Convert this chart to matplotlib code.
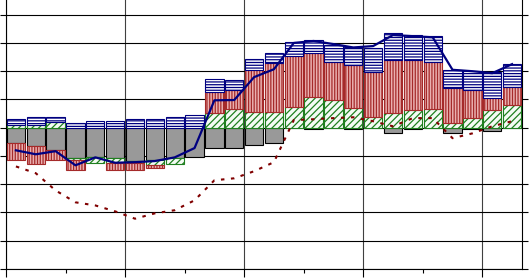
import numpy as np
import matplotlib
matplotlib.use("Agg")
import matplotlib.pyplot as plt

plt.rcParams["hatch.linewidth"] = 0.9
plt.rcParams["lines.scale_dashes"] = False

# 26 Perioden, gestapelte Beitraege
n = np.arange(26)
grau = np.array([-0.55, -0.66, -0.80, -1.08, -1.05, -1.08, -1.19, -1.15, -1.08, -1.05,
                 -0.73, -0.73, -0.62, -0.55, 0.0, -0.05, 0.0, -0.05, 0.0, -0.17,
                 -0.03, 0.0, -0.20, -0.05, -0.10, 0.0])
gruen = np.array([0.08, 0.10, 0.19, -0.07, -0.20, -0.18, -0.07, -0.18, -0.22, 0.0,
                  0.51, 0.68, 0.56, 0.56, 0.74, 1.08, 0.98, 0.69, 0.37, 0.51,
                  0.62, 0.68, 0.16, 0.33, 0.62, 0.80])
rot = np.array([-0.60, -0.64, -0.35, -0.36, 0.0, -0.25, -0.25, -0.10, 0.0, 0.0,
                0.76, 0.65, 1.48, 1.72, 1.80, 1.56, 1.35, 1.52, 1.60, 1.88,
                1.77, 1.65, 1.24, 1.00, 0.43, 0.63])
blau = np.array([0.22, 0.27, 0.18, 0.16, 0.23, 0.23, 0.30, 0.30, 0.37, 0.44,
                 0.44, 0.35, 0.38, 0.35, 0.51, 0.46, 0.60, 0.64, 0.85, 0.96,
                 0.89, 0.91, 0.64, 0.68, 0.92, 0.83])
# Summenlinie und kumulierte Linie
summe = np.array([-0.80, -0.94, -0.83, -1.33, -1.05, -1.24, -1.22, -1.18, -1.05, -0.72,
                  0.97, 0.98, 1.79, 2.07, 3.00, 3.07, 2.96, 2.84, 2.89, 3.28,
                  3.24, 3.20, 2.05, 2.00, 1.93, 2.25])
kumuliert = np.array([-1.37, -1.61, -2.22, -2.64, -2.75, -2.96, -3.22, -3.03, -2.92, -2.57,
                      -1.86, -1.79, -1.54, -1.22, 0.27, 0.30, 0.34, 0.37, 0.23, 0.05,
                      0.34, 0.34, -0.37, -0.20, 0.05, 0.23])

fig = plt.figure(figsize=(5.29, 2.78), dpi=100)
ax = fig.add_axes([6/529, 9/278, 516/529, 269/278])

serien = [(grau, "#999999", "black", ""),
          (gruen, "#f4fbf4", "#1f7f1f", "/////"),
          (rot, "#eab0b0", "#a52a2a", "||||||"),
          (blau, "white", "#000080", "------")]
pos = np.zeros(len(n))
neg = np.zeros(len(n))
for werte, fc, ec, muster in serien:
    unten = np.where(werte >= 0, pos, neg)
    m = werte != 0
    ax.bar(n[m], werte[m], 0.92, bottom=unten[m], color=fc, edgecolor=ec,
           hatch=muster, linewidth=0.8, zorder=2)
    pos = pos + np.clip(werte, 0, None)
    neg = neg + np.clip(werte, None, 0)

ax.plot(n, summe, color="#000080", lw=1.6, zorder=4)
ax.plot(n, kumuliert, color="#800000", lw=1.5, linestyle=(0, (2.5, 4.7)), zorder=4)

ax.set_xlim(-0.5, 25.5)
ax.set_ylim(-5, 4.52)
ax.set_yticks(range(-5, 5))
ax.set_xticks(np.arange(-0.5, 26, 6))
ax.set_xticks(np.arange(2.5, 26, 6), minor=True)
ax.yaxis.grid(True, color="black", lw=0.8)
ax.xaxis.grid(True, which="major", color="#404040", lw=0.8)
ax.set_axisbelow(True)
ax.tick_params(axis="x", which="major", direction="out", length=5.8, width=0.8,
               labelbottom=False)
ax.tick_params(axis="x", which="minor", direction="out", length=3, width=0.8)
ax.tick_params(axis="y", direction="out", length=4.3, width=0.8, labelleft=False,
               right=True)
ax.spines["top"].set_visible(False)
for s in ["left", "right", "bottom"]:
    ax.spines[s].set_linewidth(0.8)

fig.savefig("out.png", dpi=100)
